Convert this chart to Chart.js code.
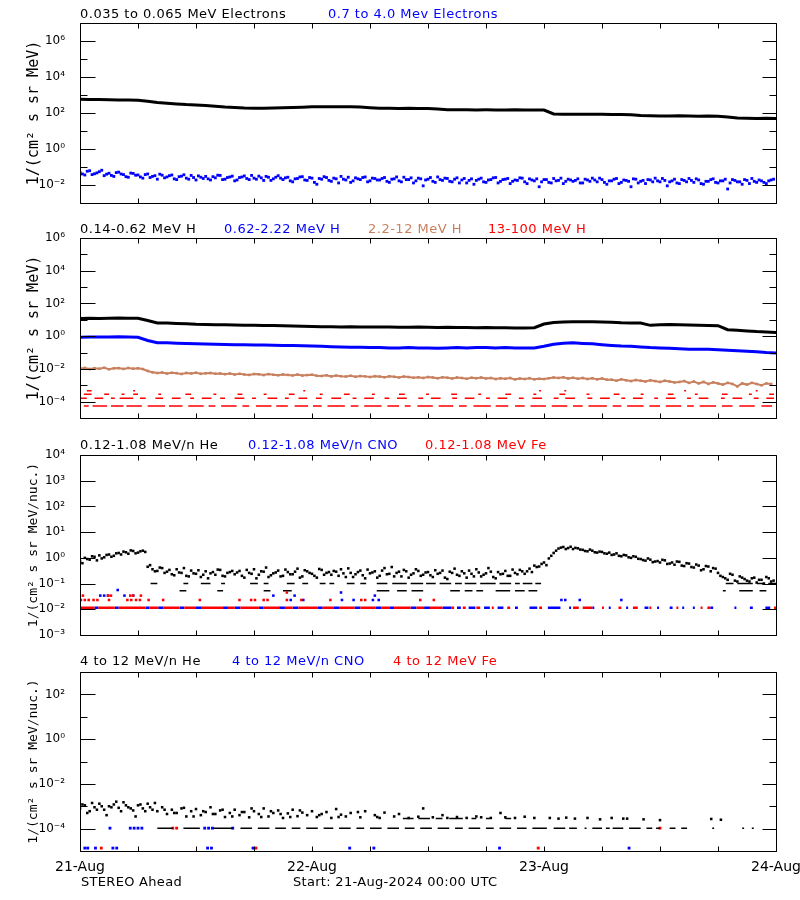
<!DOCTYPE html>
<html>
<head>
<meta charset="utf-8">
<script src="https://cdn.jsdelivr.net/npm/chart.js@4.4.1/dist/chart.umd.min.js"></script>
<style>
  body { margin: 0; background: #fff; }
  #page { position: relative; width: 800px; height: 900px; overflow: hidden; background: #fff; }
  canvas { position: absolute; left: 0; }
  .lbl { position: absolute; font-family: "DejaVu Sans", sans-serif; font-size: 13px; line-height: 15px; letter-spacing: 0.5px; white-space: pre; color: #000; }
  .foot { font-size: 13px; letter-spacing: 0.3px; }
</style>
</head>
<body>
<div id="page">
  <canvas id="p1" width="800" height="204" style="top:11px"></canvas>
  <canvas id="p2" width="800" height="204" style="top:226px"></canvas>
  <canvas id="p3" width="800" height="204" style="top:443px"></canvas>
  <canvas id="p4" width="800" height="221" style="top:660px"></canvas>

  <div class="lbl" style="left:80px;top:6px">0.035 to 0.065 MeV Electrons</div>
  <div class="lbl" style="left:328px;top:6px;color:#0000ff">0.7 to 4.0 Mev Electrons</div>

  <div class="lbl" style="left:80px;top:221px">0.14-0.62 MeV H</div>
  <div class="lbl" style="left:224px;top:221px;color:#0000ff">0.62-2.22 MeV H</div>
  <div class="lbl" style="left:368px;top:221px;color:#c8805f">2.2-12 MeV H</div>
  <div class="lbl" style="left:488px;top:221px;color:#ff0000">13-100 MeV H</div>

  <div class="lbl" style="left:80px;top:437px">0.12-1.08 MeV/n He</div>
  <div class="lbl" style="left:248px;top:437px;color:#0000ff">0.12-1.08 MeV/n CNO</div>
  <div class="lbl" style="left:425px;top:437px;color:#ff0000">0.12-1.08 MeV Fe</div>

  <div class="lbl" style="left:80px;top:653px">4 to 12 MeV/n He</div>
  <div class="lbl" style="left:232px;top:653px;color:#0000ff">4 to 12 MeV/n CNO</div>
  <div class="lbl" style="left:393px;top:653px;color:#ff0000">4 to 12 MeV Fe</div>

  <div class="lbl foot" style="left:81px;top:874px">STEREO Ahead</div>
  <div class="lbl foot" style="left:293px;top:874px">Start: 21-Aug-2024 00:00 UTC</div>
</div>
<script>
"use strict";

const BLACK = "#000000";
const BLUE = "#0000ff";
const RED = "#ff0000";
const BROWN = "#c8805f";

// time axis, hours after 21-Aug 00:00
const xTickHours = [0, 6, 12, 18, 24, 30, 36, 42, 48, 54, 60, 66, 72];
const dayLabels = ["21-Aug", "22-Aug", "23-Aug", "24-Aug"];

//パネル1 electrons
const p1Decades = [-3, -2, -1, 0, 1, 2, 3, 4, 5, 6, 7];
const p1Labeled = [-2, 0, 2, 4, 6];
// hourly
const electronLow = [575, 565, 555, 545, 530, 520, 505, 450, 380, 345, 320, 295, 280, 262, 240, 218, 205, 192, 185, 182,
  188, 195, 205, 212, 222, 226, 224, 226, 220, 215, 198, 186, 182, 180, 182, 178, 176, 165, 152, 150,
  152, 148, 150, 148, 146, 150, 148, 147, 145, 88, 86, 85, 84, 86, 84, 83, 82, 80, 72, 70,
  69, 68, 70, 68, 67, 68, 66, 60, 52, 51, 50, 51, 50];
// on the hour and half hour
const electronHighA = [0.05, 0.036, 0.062, 0.042, 0.055, 0.033, 0.045, 0.03, 0.052, 0.038, 0.027, 0.044,
  0.036, 0.024, 0.041, 0.03, 0.021, 0.035, 0.028, 0.036, 0.02, 0.031, 0.024, 0.034, 0.019, 0.027,
  0.03, 0.019, 0.025, 0.034, 0.021, 0.028, 0.017, 0.026, 0.032, 0.02, 0.024, 0.031, 0.018, 0.027, 0.022, 0.033,
  0.02, 0.027, 0.015, 0.023, 0.029, 0.018, 0.024, 0.011, 0.021, 0.026, 0.016, 0.022, 0.03, 0.019, 0.014, 0.025, 0.02, 0.028, 0.017, 0.023,
  0.019, 0.026, 0.014, 0.022, 0.017, 0.027, 0.02, 0.013, 0.024, 0.009, 0.021, 0.016, 0.028, 0.018, 0.023, 0.015, 0.025, 0.019, 0.013, 0.022,
  0.018, 0.024, 0.014, 0.02, 0.026, 0.016, 0.021, 0.012, 0.019, 0.025, 0.015, 0.022, 0.017, 0.008, 0.02, 0.014, 0.023, 0.018, 0.012, 0.021,
  0.016, 0.022, 0.013, 0.019, 0.024, 0.015, 0.02, 0.011, 0.017, 0.023, 0.014, 0.018, 0.008, 0.021, 0.016, 0.012, 0.019, 0.024, 0.015, 0.018,
  0.015, 0.021, 0.012, 0.018, 0.023, 0.014, 0.019, 0.011, 0.016, 0.022, 0.013, 0.017, 0.006, 0.02, 0.015, 0.011, 0.018, 0.023, 0.014, 0.017, 0.012, 0.019];
// quarter past / quarter to
const electronHighB = [0.041, 0.058, 0.038, 0.047, 0.066, 0.04, 0.034, 0.049, 0.041, 0.029, 0.046, 0.035,
  0.028, 0.038, 0.026, 0.033, 0.04, 0.025, 0.033, 0.022, 0.029, 0.037, 0.021, 0.026, 0.032, 0.023,
  0.022, 0.029, 0.035, 0.02, 0.026, 0.031, 0.019, 0.028, 0.023, 0.034, 0.021, 0.025, 0.03, 0.018, 0.027, 0.024,
  0.025, 0.017, 0.022, 0.028, 0.019, 0.026, 0.014, 0.023, 0.029, 0.018, 0.024, 0.013, 0.021, 0.027, 0.017, 0.022, 0.026, 0.015, 0.024, 0.019,
  0.023, 0.016, 0.021, 0.028, 0.015, 0.02, 0.025, 0.017, 0.022, 0.019, 0.026, 0.014, 0.02, 0.024, 0.016, 0.021, 0.013, 0.023, 0.018, 0.011,
  0.021, 0.015, 0.019, 0.025, 0.013, 0.02, 0.023, 0.016, 0.018, 0.024, 0.012, 0.019, 0.022, 0.015, 0.02, 0.013, 0.017, 0.024, 0.016, 0.019,
  0.018, 0.013, 0.021, 0.016, 0.019, 0.024, 0.014, 0.017, 0.021, 0.012, 0.019, 0.016, 0.022, 0.013, 0.018, 0.02, 0.015, 0.017, 0.023, 0.009,
  0.017, 0.013, 0.02, 0.015, 0.018, 0.022, 0.012, 0.016, 0.02, 0.014, 0.017, 0.021, 0.013, 0.018, 0.015, 0.02, 0.012, 0.016, 0.019, 0.014, 0.017, 0.021];

//パネル2 protons
const p2Decades = [-5, -4, -3, -2, -1, 0, 1, 2, 3, 4, 5, 6];
const p2Labeled = [-4, -2, 0, 2, 4, 6];
// hourly
const protonA = [12, 12.5, 12, 12.5, 13, 12.5, 12.5, 9, 6.5, 6.3, 6.0, 5.8, 5.3, 5.2, 5.0, 5.0, 4.8, 4.7, 4.6, 4.5,
  4.5, 4.3, 4.2, 4.0, 3.9, 3.8, 3.8, 3.7, 3.8, 3.7, 3.6, 3.7, 3.6, 3.5, 3.5, 3.6, 3.5, 3.4, 3.5, 3.4,
  3.4, 3.3, 3.4, 3.3, 3.3, 3.2, 3.2, 3.3, 5.5, 6.8, 7.4, 7.6, 7.5, 7.6, 7.4, 7.2, 6.6, 6.4, 6.3, 4.6,
  5.0, 5.2, 5.0, 4.8, 4.7, 4.5, 4.4, 2.5, 2.3, 2.1, 1.9, 1.8, 1.7];
const protonB = [0.85, 0.9, 0.88, 0.9, 0.92, 0.88, 0.86, 0.55, 0.4, 0.39, 0.37, 0.36, 0.34, 0.33, 0.32, 0.31, 0.3, 0.3, 0.29, 0.29,
  0.28, 0.27, 0.27, 0.26, 0.25, 0.24, 0.23, 0.22, 0.21, 0.21, 0.2, 0.2, 0.19, 0.19, 0.2, 0.19, 0.19, 0.18, 0.19, 0.2,
  0.19, 0.2, 0.2, 0.19, 0.2, 0.19, 0.19, 0.19, 0.24, 0.32, 0.37, 0.39, 0.36, 0.34, 0.3, 0.27, 0.25, 0.24, 0.22, 0.2,
  0.19, 0.18, 0.17, 0.16, 0.16, 0.16, 0.15, 0.14, 0.13, 0.12, 0.11, 0.1, 0.095];
// every 30 min
const protonC = [0.0105, 0.0115, 0.0098, 0.011, 0.0102, 0.0118, 0.0095, 0.0108, 0.0112, 0.01, 0.0115, 0.0104, 0.0109, 0.0098,
  0.0075, 0.0062,
  0.0056, 0.006, 0.0052, 0.0058, 0.0055, 0.0049, 0.0057, 0.0053, 0.0059, 0.005, 0.0054, 0.0057, 0.0051, 0.0053,
  0.0048, 0.0052, 0.0045, 0.005, 0.0046, 0.0043, 0.0049, 0.0047, 0.0042, 0.0048, 0.0044, 0.0041, 0.0046, 0.0043, 0.004, 0.0045, 0.0039, 0.0042, 0.0044, 0.0038,
  0.0037, 0.0041, 0.0035, 0.0039, 0.0036, 0.0034, 0.0038, 0.0033, 0.0037, 0.0035, 0.0032, 0.0036, 0.0034, 0.0031, 0.0035, 0.0033, 0.003, 0.0034, 0.0032, 0.0029,
  0.0031, 0.0028, 0.0032, 0.003, 0.0027, 0.0031, 0.0029, 0.0026, 0.003, 0.0028, 0.0025, 0.0029, 0.0027, 0.003, 0.0026, 0.0028, 0.0024, 0.0027, 0.0025, 0.0028, 0.0023, 0.0026, 0.0024, 0.0027, 0.0023, 0.0025,
  0.0024, 0.0027, 0.003, 0.0028, 0.0031, 0.0026, 0.0029, 0.0025, 0.0028, 0.0024, 0.0027, 0.0023, 0.0026, 0.0022,
  0.0022, 0.0019, 0.0023, 0.002, 0.0018, 0.0021, 0.0019, 0.0017, 0.002, 0.0018, 0.0016, 0.0019, 0.0017, 0.0015,
  0.0016, 0.0018, 0.0014, 0.0017, 0.0013, 0.0016, 0.0012, 0.0015, 0.0013, 0.0011, 0.0014, 0.0012, 0.00085, 0.0013, 0.0011, 0.0014, 0.0012, 0.001, 0.0013, 0.0012];
// 13-100 MeV H: few counts, so values sit on fixed levels; [start hour, end hour] of each run
const protonDLevels = [5.5e-5, 1.6e-4, 2.8e-4, 4.6e-4];
const protonDRuns0 = [[0.4, 0.9], [1.3, 2.8], [3.2, 4.5], [4.8, 6.4], [7, 8.8], [9.2, 10.6], [11.2, 12.8], [13.3, 14], [14.6, 16.2], [16.8, 17.5],
  [18.2, 19.8], [20.3, 21.5], [22.2, 23.6], [24.1, 25], [25.6, 27.4], [28, 28.8], [29.4, 31.2], [31.8, 33], [33.6, 34.2], [34.9, 36.5],
  [37.1, 38.6], [39.2, 40], [40.7, 42.5], [43, 44.3], [45, 46], [46.6, 48.2], [48.8, 50.4], [51, 52], [52.6, 54.5], [55.1, 56],
  [56.6, 58.3], [58.9, 60], [60.6, 62.2], [62.8, 63.5], [64.1, 65.8], [66.4, 67.5], [68.2, 69.8], [70.5, 71.6]];
const protonDRuns1 = [[0.1, 0.7], [1.5, 2.4], [3.2, 3.6], [4.1, 5.5], [6.2, 6.8], [7.8, 8.6], [9.5, 10.4], [11.4, 11.8], [12.6, 13.6], [14.5, 15],
  [16, 17], [17.8, 18.2], [19.4, 20.4], [21.2, 21.6], [22.6, 23.5], [24.4, 25], [26, 27], [28.2, 28.6], [29.4, 30.4], [31.5, 32],
  [32.8, 33.8], [35, 35.5], [36.3, 37.3], [38.5, 39], [39.8, 40.8], [42, 42.4], [43.2, 44.2], [45.4, 45.9], [46.8, 47.8], [49, 49.5],
  [50.2, 51.2], [52.5, 53], [53.8, 54.8], [56, 56.4], [57.2, 58.2], [59.4, 59.8], [60.6, 61.6], [62.8, 63.2], [64, 65], [66.3, 66.7],
  [67.5, 68.5], [69.7, 70.2], [71, 71.8]];
const protonDRuns2 = [[0.4, 1.2], [2.5, 3], [4.3, 4.6], [5.5, 6], [8.1, 8.4], [10.9, 11.5], [13.8, 14.1], [16.3, 16.8], [19, 19.3], [21.6, 22.2],
  [24.8, 25.1], [27.3, 27.9], [30.2, 30.5], [33, 33.6], [35.8, 36.1], [38.4, 39], [41.2, 41.5], [44, 44.6], [46.9, 47.2], [49.6, 50.2],
  [52.4, 52.7], [55.2, 55.8], [58, 58.3], [60.8, 61.4], [63.6, 63.9], [66.4, 67], [69.2, 69.5], [71.3, 71.8]];
const protonDRuns3 = [[0.7, 1.2], [5.5, 5.7], [23.1, 23.3], [47.5, 47.7], [50.1, 50.3], [62.5, 62.7], [69.9, 70.1]];

//パネル3 0.12-1.08 MeV/n ions
const p3Decades = [-3, -2, -1, 0, 1, 2, 3, 4];
const p3Labeled = [-3, -2, -1, 0, 1, 2, 3, 4];
// He on the hour and half hour
const heLowA = [0.75, 1.0, 0.85, 1.1, 1.25, 1.05, 1.35, 1.2, 1.55, 1.75, 1.45, 1.85, 1.6, 1.9,
  0.45, 0.36, 0.31, 0.4,
  0.29, 0.23, 0.36, 0.26, 0.2, 0.32, 0.24, 0.18, 0.3, 0.25, 0.22, 0.34, 0.19, 0.28,
  0.23, 0.31, 0.17, 0.26, 0.36, 0.22, 0.29, 0.18, 0.25, 0.32, 0.2, 0.28, 0.23, 0.38, 0.19, 0.3, 0.24, 0.17, 0.34, 0.26,
  0.22, 0.29, 0.36, 0.18, 0.26, 0.23, 0.32, 0.16, 0.25, 0.3, 0.2, 0.4, 0.24, 0.19, 0.29, 0.34, 0.17, 0.25, 0.31, 0.22,
  0.28, 0.18, 0.24, 0.32, 0.15, 0.26, 0.22, 0.3, 0.17, 0.24, 0.36, 0.19, 0.25, 0.29, 0.16, 0.23, 0.31, 0.2, 0.26, 0.34,
  0.24, 0.38, 0.5, 0.46, 0.66, 0.95,
  1.55, 2.3, 2.65, 2.4, 2.2, 2.35,
  2.05, 1.8, 1.9, 1.6, 1.7, 1.45, 1.3, 1.5, 1.15, 1.25, 1.0, 1.1,
  0.9, 0.78, 0.85, 0.72, 0.66, 0.8, 0.6, 0.54, 0.7, 0.48, 0.6, 0.42, 0.5, 0.36, 0.46, 0.4,
  0.26, 0.18, 0.14, 0.22, 0.12, 0.17, 0.13, 0.16, 0.11, 0.14, 0.18, 0.12];
// He quarter past / quarter to
const heLowB = [0.62, 0.9, 1.15, 0.8, 0.95, 1.3, 1.1, 1.5, 1.35, 1.65, 1.95, 1.5, 1.8, 1.7,
  0.52, 0.3, 0.42, 0.26,
  0.34, 0.21, 0.27, 0.4, 0.19, 0.25, 0.33, 0.22, 0.16, 0.28, 0.35, 0.2, 0.26, 0.31,
  0.27, 0.2, 0.34, 0.24, 0.16, 0.3, 0.42, 0.21, 0.27, 0.19, 0.35, 0.23, 0.29, 0.17, 0.33, 0.26, 0.2, 0.37, 0.22, 0.28,
  0.31, 0.2, 0.25, 0.39, 0.18, 0.28, 0.21, 0.35, 0.27, 0.17, 0.32, 0.23, 0.44, 0.26, 0.19, 0.3, 0.22, 0.36, 0.2, 0.27,
  0.21, 0.33, 0.26, 0.17, 0.29, 0.38, 0.2, 0.25, 0.32, 0.19, 0.27, 0.22, 0.4, 0.18, 0.28, 0.24, 0.2, 0.35, 0.23, 0.3,
  0.3, 0.28, 0.44, 0.58, 0.52, 1.2,
  1.9, 2.5, 2.2, 2.7, 2.45, 2.1,
  1.85, 2.1, 1.65, 1.75, 1.5, 1.6, 1.35, 1.2, 1.3, 1.05, 1.15, 0.92,
  0.82, 0.95, 0.68, 0.75, 0.84, 0.58, 0.66, 0.72, 0.5, 0.62, 0.44, 0.55, 0.33, 0.48, 0.3, 0.38,
  0.2, 0.16, 0.24, 0.13, 0.19, 0.15, 0.12, 0.17, 0.14, 0.1, 0.16, 0.13];
// single-count levels of He, [start, end] hours
const heLowLevels = [0.1, 0.052];
const heLowRuns0 = [[7.3, 8], [10.7, 11.2], [12.5, 13.5], [14.6, 15], [17.6, 18.4], [19, 19.5], [21.4, 22.2], [23, 23.6], [24.8, 25.4], [25.8, 26.3],
  [27.6, 28.4], [29, 29.6], [30.7, 31.8], [32.3, 33.8], [34.2, 35.5], [35.8, 36.8], [37.2, 38.4], [38.8, 39.5], [39.8, 41], [41.4, 43],
  [43.4, 44.6], [45, 45.5], [45.8, 46.8], [47.1, 47.7], [66.8, 67.6], [68, 69.6], [70, 70.8], [71.2, 72]];
const heLowRuns1 = [[10.3, 11], [14.2, 14.8], [19, 19.7], [21, 21.9], [30.7, 32], [32.8, 33.8], [34.3, 35.5], [38.3, 39.3], [39.8, 40.6], [41, 41.7],
  [43, 44.5], [45, 46], [46.4, 47.3], [66.5, 66.8], [68.2, 69.6], [70.3, 71]];
// CNO and Fe: one-count level, then scattered higher points [hour, value]
const ionLowLevel = 0.0115;
const feLowRuns = [[0, 1.5], [1.9, 3.6], [4, 6.8], [7.2, 8.1], [8.6, 10.3], [10.8, 12], [12.6, 14.8], [15.3, 16], [16.6, 18.5], [19, 20.6],
  [21.2, 22], [22.6, 24.6], [25.1, 26.2], [26.8, 28.4], [29, 30.6], [31.2, 32], [32.5, 34.2], [34.8, 35.6], [36.2, 37.5], [38.4, 38.7],
  [39.6, 39.9], [41, 41.4], [42.6, 42.8], [44.2, 44.5], [47.5, 47.8], [51, 51.6], [52, 53], [54, 54.2], [55.7, 56], [57.2, 57.7],
  [58.9, 59.1], [61.7, 61.9], [64.2, 64.4], [64.9, 65.2], [71.8, 72]];
const cnoLowRuns = [[1.5, 1.9], [3.6, 4], [6.8, 7.2], [8.1, 8.6], [10.3, 10.8], [12, 12.6], [14.8, 15.3], [16, 16.6], [18.5, 19], [20.6, 21.2],
  [22, 22.6], [24.6, 25.1], [26.2, 26.8], [28.4, 29], [30.6, 31.2], [32, 32.5], [34.2, 34.8], [35.6, 36.2], [37.5, 38.4], [39, 39.4],
  [40.2, 40.9], [41.8, 42.4], [43.2, 43.8], [45, 45.3], [46.5, 47.3], [48.4, 49.7], [50.6, 50.8], [53, 53.2], [54.7, 54.9], [56.5, 56.7],
  [58.4, 58.8], [59.7, 59.9], [61, 61.3], [62.3, 62.5], [63.4, 63.6], [65.2, 65.5], [67.7, 67.9], [69.3, 69.6], [70.9, 71.4]];
const feLowPoints = [[0.1, 0.023], [0.5, 0.023], [0.9, 0.023], [1.4, 0.023], [1.8, 0.023], [0.3, 0.034], [2.9, 0.034], [3.2, 0.034],
  [3, 0.023], [5.2, 0.034], [5.5, 0.034], [6.3, 0.034], [4.9, 0.023], [5.3, 0.023], [5.8, 0.023], [6.2, 0.023], [7.1, 0.023],
  [8.6, 0.023], [12.4, 0.023], [16.5, 0.023], [17.7, 0.023], [18.1, 0.023], [19.0, 0.023], [19.4, 0.023], [21.4, 0.023],
  [21.4, 0.045], [22.9, 0.023], [25.9, 0.023], [29.1, 0.023], [29.5, 0.023], [35.2, 0.023], [36.6, 0.023]];
const cnoLowPoints = [[2.1, 0.034], [2.5, 0.034], [2.9, 0.034], [3.9, 0.056], [4.6, 0.034], [5.5, 0.034], [20, 0.034], [21.8, 0.023],
  [22.2, 0.034], [23.1, 0.023], [27, 0.045], [27.1, 0.023], [28.3, 0.023], [30.3, 0.023], [30.5, 0.034], [30.9, 0.023],
  [49.8, 0.023], [50.2, 0.023], [51.7, 0.023], [56, 0.023]];

//パネル4 4-12 MeV/n ions
const p4Decades = [-5, -4, -3, -2, -1, 0, 1, 2, 3];
const p4Labeled = [-4, -2, 0, 2];
// He every 30 min up to 47.5 h (null = no count)
const heHigh = [8e-4, 1.1e-3, 6e-4, 9e-4, 1.3e-3, 7e-4, 1e-3, 1.2e-3, 8.5e-4, 1.5e-3, 9e-4, 6.5e-4, 1.1e-3, 8e-4, 1.3e-3, 7e-4,
  6e-4, 9e-4, 4.5e-4, 7e-4, 5e-4, 8e-4, 3.5e-4, 6e-4, 7.5e-4, 4e-4, 5.5e-4, 9e-4, 4.5e-4, 6.5e-4, 3.3e-4, 5e-4,
  7e-4, 4e-4, 5.5e-4, 3.2e-4, 6e-4, 4.5e-4, 8e-4, 3.5e-4, 5e-4, 6.5e-4, 3e-4, 4.8e-4, 7e-4, 3.6e-4, 5.2e-4, 4e-4,
  6e-4, 3.3e-4, 4.5e-4, 5.5e-4, 3e-4, 7.5e-4, 4.2e-4, 3.5e-4, 5e-4, null, 3.2e-4, 6e-4, null, 4e-4, 3e-4, 5.2e-4,
  null, 3.5e-4, 4.5e-4, null, 3e-4, null, 3.4e-4, 8e-4, null, 3.2e-4, null, 4e-4, 3e-4, null, 3.3e-4, null,
  3e-4, null, 3.5e-4, 3.2e-4, null, 3e-4, null, 5e-4, 3.2e-4, null, 3e-4, null, 3.4e-4, null, 3e-4, null];
const heHighPoints = [[0.25, 1.2e-3], [0.75, 5e-4], [1.25, 1.4e-3], [1.75, 7e-4], [2.25, 1e-3], [2.75, 4e-4], [3.25, 9e-4], [3.75, 1.6e-3],
  [4.25, 6e-4], [4.75, 1.1e-3], [5.25, 8e-4], [5.75, 3.5e-4], [6.25, 1.2e-3], [6.75, 6e-4], [7.25, 9e-4], [7.75, 1.4e-3],
  [8.75, 7e-4], [9.75, 5e-4], [10.75, 8.5e-4], [11.75, 3.5e-4], [12.75, 6e-4], [13.75, 4.5e-4], [14.75, 7e-4], [15.75, 3.5e-4],
  [16.75, 5.5e-4], [17.75, 8e-4], [18.75, 3.3e-4], [19.75, 6e-4], [20.75, 4.5e-4], [21.75, 3.3e-4], [22.75, 6.5e-4], [24.75, 4e-4],
  [26.75, 3.3e-4], [28.75, 5.5e-4], [30.75, 3.3e-4], [48.6, 3e-4], [49.5, 2.8e-4], [50.3, 3.1e-4], [51.2, 2.8e-4], [52.5, 3e-4],
  [53.8, 2.6e-4], [55, 3e-4], [56.2, 2.8e-4], [56.6, 2.8e-4], [58.3, 2.6e-4], [60, 2.4e-4], [65.3, 2.7e-4], [66.3, 2.5e-4]];
const heHighLevels = [1.05e-4, 2.8e-4];
const heHighRuns0 = [[8.0, 9.6], [10.7, 12.4], [13.8, 15.8], [16.6, 17.8], [18.4, 19.6], [20.2, 21.3], [21.9, 22.8], [23.4, 24.6], [25.2, 26.2],
  [26.8, 28.0], [28.6, 29.4], [30.0, 31.2], [31.8, 33.0], [33.6, 34.6], [35.2, 36.4], [37.0, 38.2], [38.8, 39.6], [40.2, 41.4],
  [42.0, 42.8], [43.4, 44.6], [45.2, 46.2], [46.8, 48.3], [49.0, 50.2], [50.6, 51.4], [52.2, 52.4], [53.0, 54.0], [54.4, 54.8],
  [55.1, 56.2], [56.8, 58.0], [58.6, 59.2], [59.6, 60.0], [61.0, 61.6], [62.2, 62.8], [65.4, 65.6], [68.5, 68.7], [69.5, 69.7]];
const heHighRuns1 = [[33.4, 34.5], [35, 36.2], [36.8, 37.5], [38.2, 39.6], [40.5, 41], [42, 42.4], [44, 44.6]];
const cnoHighPoints = [[3.1, 1.05e-4], [5.2, 1.05e-4], [5.6, 1.05e-4], [6.0, 1.05e-4], [6.4, 1.05e-4], [12.9, 1.05e-4], [13.3, 1.05e-4],
  [13.7, 1.05e-4], [15.8, 1.05e-4], [0.5, 1.35e-5], [0.8, 1.35e-5], [1.6, 1.35e-5], [3.4, 1.35e-5], [3.8, 1.35e-5], [13.2, 1.35e-5],
  [13.6, 1.35e-5], [17.9, 1.35e-5], [27.9, 1.35e-5], [30.4, 1.35e-5], [43.4, 1.35e-5], [56.8, 1.35e-5]];
const feHighPoints = [[9.6, 1.05e-4], [10.0, 1.05e-4], [60.0, 1.05e-4], [2.2, 1.35e-5], [18.2, 1.35e-5], [47.4, 1.35e-5]];

// helpers ---------------------------------------------------------------
function sampled(values, step, start) {
  const t0 = start || 0;
  return values.map((v, i) => ({ x: t0 + i * step, y: v }));
}
function pairs(list) {
  return list.map((p) => ({ x: p[0], y: p[1] }));
}
function runs(list, level) {
  const out = [];
  list.forEach((r) => {
    out.push({ x: r[0], y: level }, { x: r[1], y: level }, { x: r[1], y: null });
  });
  return out;
}
function lineSet(data, color, width) {
  return { data, borderColor: color, borderWidth: width, borderCapStyle: "butt", pointRadius: 0, showLine: true, tension: 0 };
}
function dotSet(data, color, r) {
  return {
    data, showLine: false, pointStyle: "rect", pointRadius: r, pointBorderWidth: 0,
    pointBackgroundColor: color, borderColor: color, backgroundColor: color,
  };
}

const SUP = { "0": "⁰", "1": "¹", "2": "²", "3": "³", "4": "⁴", "5": "⁵", "6": "⁶", "7": "⁷", "8": "⁸", "9": "⁹", "-": "⁻" };
function sup(n) {
  return String(n).split("").map((c) => SUP[c]).join("");
}

function yAxis(decades, labeled, title, titleSize) {
  return {
    type: "logarithmic",
    min: Math.pow(10, decades[0]),
    max: Math.pow(10, decades[decades.length - 1]),
    afterBuildTicks: (s) => {
      s.ticks = decades.map((e) => ({ value: Math.pow(10, e) }));
    },
    afterFit: (s) => {
      s.width = 80;
      s.paddingTop = 0;
      s.paddingBottom = 0;
    },
    grid: { display: false },
    border: { display: false },
    ticks: {
      autoSkip: false,
      padding: 7,
      color: BLACK,
      font: { family: "DejaVu Sans", size: 12 },
      callback: (v) => {
        const e = Math.round(Math.log10(v));
        return labeled.includes(e) ? "10" + sup(e) : "";
      },
    },
    title: {
      display: true,
      text: title,
      color: BLACK,
      font: { family: "DejaVu Sans Mono", size: titleSize },
      padding: { top: 34 - titleSize * 0.6, bottom: 0 },
    },
  };
}

function xAxis(withLabels) {
  return {
    type: "linear",
    min: 0,
    max: 72,
    afterBuildTicks: (s) => {
      s.ticks = xTickHours.map((h) => ({ value: h }));
    },
    afterFit: (s) => {
      s.height = withLabels ? 30 : 0;
      s.paddingLeft = 0;
      s.paddingRight = 0;
    },
    grid: { display: false },
    border: { display: false },
    ticks: {
      display: withLabels,
      autoSkip: false,
      maxRotation: 0,
      minRotation: 0,
      padding: 0,
      color: BLACK,
      font: { family: "DejaVu Sans", size: 14 },
      callback: (v) => (v % 24 === 0 ? dayLabels[v / 24] : ""),
    },
  };
}

// IDL style box with inward ticks
const idlFrame = {
  id: "idlFrame",
  afterDraw(chart) {
    const { ctx, chartArea: a } = chart;
    const x = chart.scales.x;
    const y = chart.scales.y;
    const L = Math.round(a.left) + 0.5;
    const R = Math.round(a.right) + 0.5;
    const T = Math.round(a.top) + 0.5;
    const B = Math.round(a.bottom) + 0.5;
    ctx.save();
    ctx.strokeStyle = BLACK;
    ctx.lineWidth = 1;
    ctx.beginPath();
    ctx.rect(L, T, R - L, B - T);
    y.ticks.forEach((t) => {
      const py = Math.round(y.getPixelForValue(t.value)) + 0.5;
      const major = t.label !== "" && t.label !== undefined;
      ctx.moveTo(L, py);
      ctx.lineTo(L + (major ? 15 : 7), py);
      ctx.moveTo(R, py);
      ctx.lineTo(R - (major ? 14 : 7), py);
    });
    x.ticks.forEach((t) => {
      const px = Math.round(x.getPixelForValue(t.value)) + 0.5;
      ctx.moveTo(px, T);
      ctx.lineTo(px, T + 5);
      ctx.moveTo(px, B);
      ctx.lineTo(px, B - 5);
    });
    ctx.stroke();
    ctx.restore();
  },
};

function makePanel(id, datasets, y, x, bottomPad) {
  return new Chart(document.getElementById(id), {
    type: "line",
    data: { datasets },
    options: {
      responsive: false,
      animation: false,
      devicePixelRatio: 1,
      layout: { padding: { left: 0, right: 24, top: 12, bottom: bottomPad } },
      plugins: { legend: { display: false }, tooltip: { enabled: false } },
      scales: { x, y },
    },
    plugins: [idlFrame],
  });
}

const fluxTitle = "1/(cm² s sr MeV)";
const nucTitle = "1/(cm² s sr MeV/nuc.)";

makePanel("p1", [
  lineSet(sampled(electronLow, 1), BLACK, 3),
  dotSet(sampled(electronHighA, 0.5), BLUE, 2.0),
  dotSet(sampled(electronHighB, 0.5, 0.25), BLUE, 2.0),
], yAxis(p1Decades, p1Labeled, fluxTitle, 15), xAxis(false), 12);

makePanel("p2", [
  lineSet(sampled(protonA, 1), BLACK, 3),
  lineSet(sampled(protonB, 1), BLUE, 3),
  Object.assign(lineSet(sampled(protonC, 0.5), BROWN, 2), { pointRadius: 1.8, pointStyle: "rect", pointBorderWidth: 0, pointBackgroundColor: BROWN }),
  lineSet(runs(protonDRuns0, protonDLevels[0]), RED, 1.5),
  lineSet(runs(protonDRuns1, protonDLevels[1]), RED, 1.5),
  lineSet(runs(protonDRuns2, protonDLevels[2]), RED, 1.5),
  lineSet(runs(protonDRuns3, protonDLevels[3]), RED, 1.5),
], yAxis(p2Decades, p2Labeled, fluxTitle, 15), xAxis(false), 12);

makePanel("p3", [
  lineSet(runs(feLowRuns, ionLowLevel), RED, 2.5),
  lineSet(runs(cnoLowRuns, ionLowLevel), BLUE, 2.5),
  dotSet(pairs(feLowPoints), RED, 1.8),
  dotSet(pairs(cnoLowPoints), BLUE, 1.8),
  lineSet(runs(heLowRuns0, heLowLevels[0]), BLACK, 1.5),
  lineSet(runs(heLowRuns1, heLowLevels[1]), BLACK, 1.5),
  dotSet(sampled(heLowA, 0.5), BLACK, 1.8),
  dotSet(sampled(heLowB, 0.5, 0.25), BLACK, 1.8),
], yAxis(p3Decades, p3Labeled, nucTitle, 13), xAxis(false), 12);

makePanel("p4", [
  lineSet(runs(heHighRuns0, heHighLevels[0]), BLACK, 1.5),
  lineSet(runs(heHighRuns1, heHighLevels[1]), BLACK, 1.5),
  dotSet(sampled(heHigh, 0.5), BLACK, 1.8),
  dotSet(pairs(heHighPoints), BLACK, 1.8),
  dotSet(pairs(cnoHighPoints), BLUE, 2.0),
  dotSet(pairs(feHighPoints), RED, 2.0),
], yAxis(p4Decades, p4Labeled, nucTitle, 13), xAxis(true), 0);
</script>
</body>
</html>
